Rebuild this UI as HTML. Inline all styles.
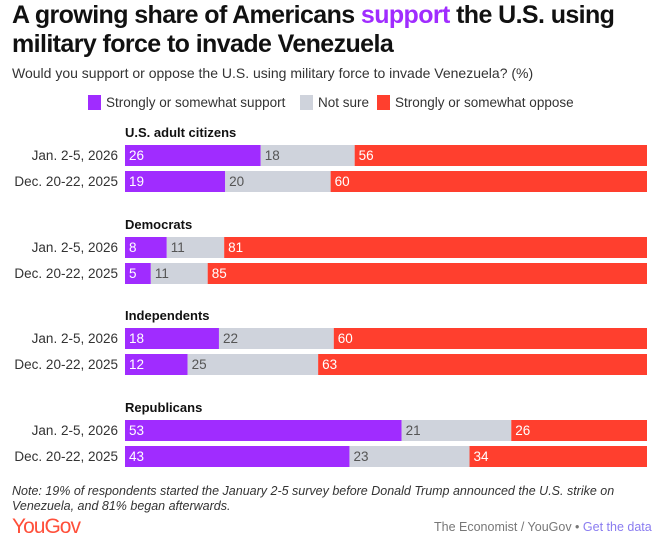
<!DOCTYPE html>
<html><head><meta charset="utf-8"><style>
body{margin:0;width:664px;height:545px;background:#fff;font-family:"Liberation Sans",sans-serif;position:relative;overflow:hidden;color:#111}
.t{position:absolute;white-space:nowrap}
</style></head><body>
<div class="t" style="left:12px;top:1px;font-size:25px;font-weight:bold;line-height:29px;letter-spacing:-0.6px">A growing share of Americans <span style="color:#a02cff">support</span> the U.S. using<br>military force to invade Venezuela</div>
<div class="t" style="left:12px;top:65px;font-size:14px;color:#333">Would you support or oppose the U.S. using military force to invade Venezuela? (%)</div>
<div style="position:absolute;left:0;top:95px;font-size:13.5px;color:#333">
<div class="t" style="left:88px"><span style="display:inline-block;width:13px;height:15px;background:#a02cff;vertical-align:-3px;margin-right:5px"></span>Strongly or somewhat support</div>
<div class="t" style="left:300px"><span style="display:inline-block;width:13px;height:15px;background:#cfd3dc;vertical-align:-3px;margin-right:5px"></span>Not sure</div>
<div class="t" style="left:377px"><span style="display:inline-block;width:13px;height:15px;background:#ff3f2e;vertical-align:-3px;margin-right:5px"></span>Strongly or somewhat oppose</div>
</div>
<svg id="chart" width="664" height="545" style="position:absolute;left:0;top:0"></svg>
<div class="t" style="left:12px;top:484px;font-size:12.5px;font-style:italic;color:#333;line-height:15px">Note: 19% of respondents started the January 2-5 survey before Donald Trump announced the U.S. strike on<br>Venezuela, and 81% began afterwards.</div>
<div class="t" style="left:12px;top:515px;font-size:21px;color:#ff4f3a;letter-spacing:-1px">YouGov</div>
<div class="t" style="left:434px;top:520px;font-size:12.5px;color:#777">The Economist / YouGov • <span style="color:#8a7cf0">Get the data</span></div>
<script>
const groups=["U.S. adult citizens","Democrats","Independents","Republicans"];
const periods=["Jan. 2-5, 2026","Dec. 20-22, 2025"];
const support=[26,19,8,5,18,12,53,43];
const notSure=[18,20,11,11,22,25,21,23];
const oppose=[56,60,81,85,60,63,26,34];
const svg=document.getElementById('chart');
const NS="http://www.w3.org/2000/svg";
const x0=125,x1=647;
const gTop=[145,237,328,420];
function mk(tag,a){const e=document.createElementNS(NS,tag);for(const k in a)e.setAttribute(k,a[k]);svg.appendChild(e);return e;}
groups.forEach((g,gi)=>{
 const t=mk('text',{x:125,y:gTop[gi]-8,'font-size':13,'font-weight':'bold',fill:'#111'});t.textContent=g;
 
 
 periods.forEach((p,pi)=>{
  const i=gi*2+pi,y=gTop[gi]+pi*26,h=21;
  const tot=support[i]+notSure[i]+oppose[i];
  const xs=v=>x0+(x1-x0)*v/tot;
  const l=mk('text',{x:118,y:y+15,'font-size':13.5,'text-anchor':'end',fill:'#333'});l.textContent=p;
  
  
  const segs=[[support[i],'#a02cff','#fff'],[notSure[i],'#cfd3dc','#555'],[oppose[i],'#ff3f2e','#fff']];
  let c=0;
  segs.forEach((s,si)=>{
   const r=mk('rect',{x:xs(c),y:y,width:xs(c+s[0])-xs(c),height:h,fill:s[1]});
   
   
   const tx=mk('text',{x:xs(c)+4,y:y+15,'font-size':13.5,fill:s[2]});tx.textContent=s[0];
   
   
   c+=s[0];
  });
 });
});
</script>
</body></html>
